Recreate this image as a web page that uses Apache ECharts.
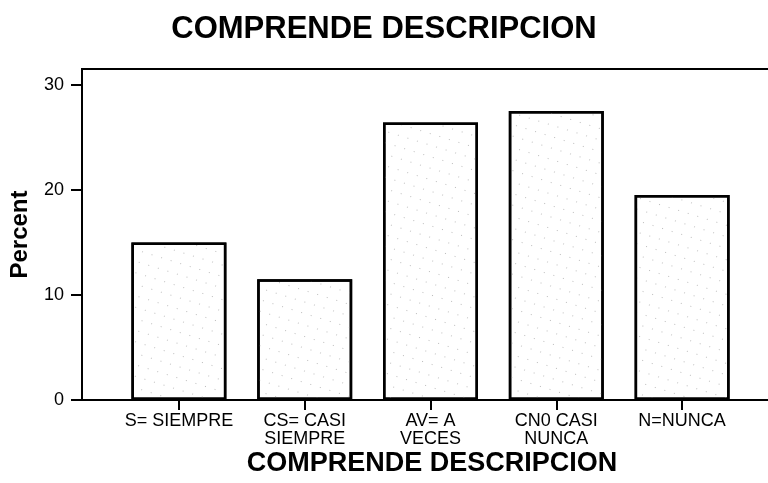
<!DOCTYPE html>
<html>
<head>
<meta charset="utf-8">
<script src="https://cdn.jsdelivr.net/npm/echarts@6/dist/echarts.min.js"></script>
<style>
html,body{margin:0;padding:0;background:#fff;}
#chart{width:768px;height:483px;}
</style>
</head>
<body>
<div id="chart"></div>
<script>
const chartTitle = 'COMPRENDE DESCRIPCION';
const categories = ['S= SIEMPRE', 'CS= CASI\nSIEMPRE', 'AV= A\nVECES', 'CN0 CASI\nNUNCA', 'N=NUNCA'];
const percentValues = [15.0, 11.5, 26.4, 27.5, 19.5];
const yTicks = [0, 10, 20, 30];
const yMax = 31.5;
const yAxisName = 'Percent';
const xAxisName = 'COMPRENDE DESCRIPCION';

const chart = echarts.init(document.getElementById('chart'), null, {renderer: 'canvas'});
const black = '#000';
const option = {
  backgroundColor: '#fff',
  animation: false,
  title: {
    text: chartTitle,
    left: 'center',
    top: 9,
    textStyle: {fontFamily: 'Liberation Sans', fontWeight: 'bold', fontSize: 31, color: black}
  },
  grid: [
    {left: 82, width: 700, top: 69, bottom: 83, outerBoundsMode: 'none', containLabel: false,
     show: true, borderColor: black, borderWidth: 2, backgroundColor: 'transparent'},
    {left: 116, right: 23, top: 69, bottom: 83, outerBoundsMode: 'none', containLabel: false}
  ],
  xAxis: [
    {
      gridIndex: 0, type: 'value', min: 0, max: 1,
      axisLine: {show: true, lineStyle: {color: black, width: 2}},
      axisTick: {show: false}, axisLabel: {show: false}, splitLine: {show: false},
      name: xAxisName, nameLocation: 'middle', nameGap: 50,
      nameTextStyle: {fontFamily: 'Liberation Sans', fontWeight: 'bold', fontSize: 27, color: black}
    },
    {
      gridIndex: 1, type: 'category', data: categories,
      axisLine: {show: false},
      axisTick: {show: true, alignWithLabel: true, length: 10, lineStyle: {color: black, width: 2}},
      axisLabel: {interval: 0, margin: 12, color: black, fontFamily: 'Liberation Sans', fontSize: 18, lineHeight: 18, align: 'center'},
      splitLine: {show: false}
    }
  ],
  yAxis: [
    {
      gridIndex: 0, type: 'value', min: 0, max: yMax, interval: 10,
      axisLine: {show: true, lineStyle: {color: black, width: 2}},
      axisTick: {show: true, length: 11, customValues: yTicks, lineStyle: {color: black, width: 2}},
      axisLabel: {customValues: yTicks, margin: 18, color: black, fontFamily: 'Liberation Sans', fontSize: 18,
        formatter: v => (yTicks.indexOf(v) >= 0 ? String(v) : '')},
      splitLine: {show: false},
      name: yAxisName, nameLocation: 'middle', nameGap: 50,
      nameTextStyle: {fontFamily: 'Liberation Sans', fontWeight: 'bold', fontSize: 24, color: black}
    },
    {
      gridIndex: 1, type: 'value', min: 0, max: yMax, show: false
    }
  ],
  series: [{
    type: 'bar',
    xAxisIndex: 1, yAxisIndex: 1,
    data: percentValues,
    barCategoryGap: '24.5%',
    itemStyle: {
      color: '#fff',
      borderColor: black,
      borderWidth: 2.5,
      decal: {symbol: 'rect', symbolSize: 1, dashArrayX: [1, 9], dashArrayY: [1, 10], color: '#bdbdbd', rotation: 0.3}
    }
  }]
};
chart.setOption(option);
</script>
</body>
</html>
